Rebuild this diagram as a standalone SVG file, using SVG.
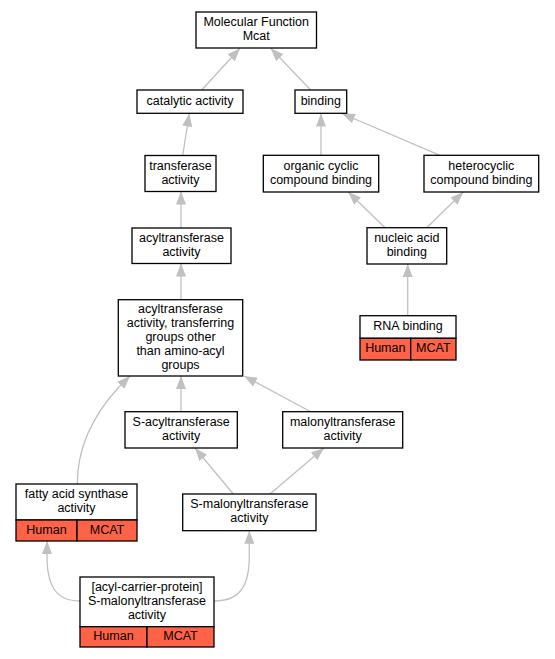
<svg xmlns="http://www.w3.org/2000/svg" width="555" height="659" viewBox="0 0 555 659">
<style>
.box{fill:#ffffff;stroke:#000000;stroke-width:1.3}
.red{fill:#ff6347;stroke:#000000;stroke-width:1.3}
text{font-family:"Liberation Sans",Arial,sans-serif;font-size:12.5px;fill:#000000;text-anchor:middle}
.edge{fill:none;stroke:#c0c0c0;stroke-width:1.3;marker-end:url(#arr)}
</style>
<defs>
<marker id="arr" viewBox="0 0 13 10" refX="13" refY="5" markerWidth="13" markerHeight="10" markerUnits="userSpaceOnUse" orient="auto">
<path d="M0,0 L13,5 L0,10 Z" fill="#c0c0c0"/>
</marker>
</defs>
<rect width="555" height="659" fill="#ffffff"/>
<g id="edges">
<path class="edge" d="M201.7,90 L240,48.3"/>
<path class="edge" d="M310.7,90 L270.7,48.3"/>
<path class="edge" d="M182.7,155.5 L189.3,113.5"/>
<path class="edge" d="M321,155.3 L321,113.5"/>
<path class="edge" d="M440,155.3 L342,113.5"/>
<path class="edge" d="M181,228 L181,191.5"/>
<path class="edge" d="M385,227.7 L348.3,192"/>
<path class="edge" d="M426.7,227.7 L463.3,192"/>
<path class="edge" d="M181,299.7 L181,263.5"/>
<path class="edge" d="M407.7,315.7 L407.7,264"/>
<path class="edge" d="M181,411.7 L181,376"/>
<path class="edge" d="M310.7,411.7 L244,376"/>
<path class="edge" d="M77.3,484 C77.3,446 94,414 119,387 L130,376"/>
<path class="edge" d="M233.3,494 L195,448"/>
<path class="edge" d="M270,494 L324,448"/>
<path class="edge" d="M80,601 C56,601 47,586 47,556 L47,541"/>
<path class="edge" d="M214,601 C240,601 249.3,586 249.3,556 L249.3,530.7"/>
</g>
<g id="mf">
<rect class="box" x="196" y="12" width="120.5" height="36"/>
<text x="256.2" y="26">Molecular Function</text>
<text x="256.2" y="40">Mcat</text>
</g>
<g id="catalytic">
<rect class="box" x="137" y="90" width="106" height="23.3"/>
<text x="190" y="104.7">catalytic activity</text>
</g>
<g id="binding">
<rect class="box" x="295" y="90" width="51.7" height="23.3"/>
<text x="320.8" y="104.7">binding</text>
</g>
<g id="transferase">
<rect class="box" x="145" y="155.5" width="71" height="36"/>
<text x="180.5" y="169.5">transferase</text>
<text x="180.5" y="183.5">activity</text>
</g>
<g id="organic">
<rect class="box" x="263.3" y="155.3" width="115.4" height="36.7"/>
<text x="321" y="169.6">organic cyclic</text>
<text x="321" y="183.6">compound binding</text>
</g>
<g id="heterocyclic">
<rect class="box" x="424" y="155.3" width="114.7" height="36.7"/>
<text x="481.3" y="169.6">heterocyclic</text>
<text x="481.3" y="183.6">compound binding</text>
</g>
<g id="acyltransferase">
<rect class="box" x="132" y="228" width="99" height="35.5"/>
<text x="181.5" y="241.8">acyltransferase</text>
<text x="181.5" y="255.8">activity</text>
</g>
<g id="nucleic">
<rect class="box" x="367" y="227.7" width="79.7" height="36.3"/>
<text x="406.8" y="241.9">nucleic acid</text>
<text x="406.8" y="255.9">binding</text>
</g>
<g id="acylother">
<rect class="box" x="118.3" y="299.7" width="124.4" height="76.3"/>
<text x="180.5" y="312.9">acyltransferase</text>
<text x="180.5" y="326.9">activity, transferring</text>
<text x="180.5" y="340.9">groups other</text>
<text x="180.5" y="354.9">than amino-acyl</text>
<text x="180.5" y="368.9">groups</text>
</g>
<g id="rna">
<rect class="box" x="360" y="315.7" width="96" height="22.6"/>
<rect class="red" x="360" y="338.3" width="50.7" height="21.7"/>
<rect class="red" x="410.7" y="338.3" width="45.3" height="21.7"/>
<text x="408" y="330.3">RNA binding</text>
<text x="385.3" y="352.2">Human</text>
<text x="433.3" y="352.2">MCAT</text>
</g>
<g id="sacyl">
<rect class="box" x="125" y="411.7" width="112.3" height="36.3"/>
<text x="181.2" y="425.9">S-acyltransferase</text>
<text x="181.2" y="439.9">activity</text>
</g>
<g id="malonyl">
<rect class="box" x="282.7" y="411.7" width="120" height="36.3"/>
<text x="342.7" y="425.9">malonyltransferase</text>
<text x="342.7" y="439.9">activity</text>
</g>
<g id="fatty">
<rect class="box" x="16" y="484" width="121" height="36"/>
<rect class="red" x="16" y="520" width="61" height="21"/>
<rect class="red" x="77" y="520" width="60" height="21"/>
<text x="76.5" y="498">fatty acid synthase</text>
<text x="76.5" y="512">activity</text>
<text x="46.5" y="533.8">Human</text>
<text x="107" y="533.8">MCAT</text>
</g>
<g id="smalonyl">
<rect class="box" x="182.7" y="494" width="133.3" height="36.7"/>
<text x="249.3" y="508.4">S-malonyltransferase</text>
<text x="249.3" y="522.4">activity</text>
</g>
<g id="acp">
<rect class="box" x="80" y="577" width="134" height="49.7"/>
<rect class="red" x="80" y="626.7" width="67" height="20.3"/>
<rect class="red" x="147" y="626.7" width="67" height="20.3"/>
<text x="147" y="590.9">[acyl-carrier-protein]</text>
<text x="147" y="604.9">S-malonyltransferase</text>
<text x="147" y="618.9">activity</text>
<text x="113.5" y="640">Human</text>
<text x="180.5" y="640">MCAT</text>
</g>
</svg>
